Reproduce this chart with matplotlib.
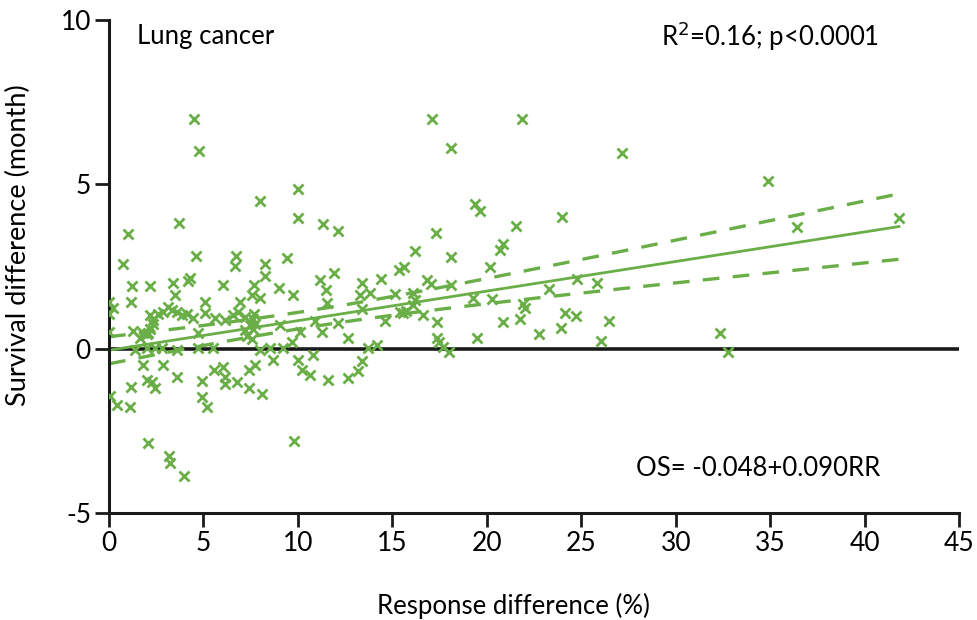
import numpy as np
import matplotlib
matplotlib.use("Agg")
import matplotlib.pyplot as plt

# Response difference (%) and survival difference (months) per trial
response_diff = [
    0.0, 0.23, 0.0, 0.0, 0.05, 0.41, 1.11, 1.16, 0.72, 1.02,
    1.23, 1.15, 1.29, 1.38, 1.64, 1.82, 1.82, 2.0, 2.26, 2.44,
    2.08, 2.17, 2.17, 2.35, 2.0, 2.17, 2.35, 2.0, 2.44, 2.79,
    2.88, 2.08, 2.6, 2.88, 3.14, 3.32, 3.58, 3.85, 4.11, 4.46,
    3.4, 3.49, 3.72, 3.58, 3.58, 3.18, 3.23, 3.99, 4.2, 4.3,
    4.52, 4.78, 4.62, 4.73, 4.73, 4.94, 4.9, 5.2, 5.08, 5.08,
    5.6, 5.52, 5.57, 6.05, 6.14, 6.05, 6.14, 6.14, 6.58, 6.84,
    6.7, 6.67, 6.76, 6.93, 7.2, 7.46, 7.2, 7.3, 7.55, 7.4,
    7.4, 7.7, 7.55, 7.99, 7.73, 7.99, 7.7, 7.6, 7.75, 7.6,
    8.0, 8.26, 8.26, 8.08, 8.52, 8.7, 9.0, 9.05, 9.23, 9.42,
    9.76, 9.67, 9.81, 9.99, 9.99, 10.1, 10.02, 10.2, 10.64, 10.81,
    10.9, 11.17, 11.5, 11.52, 11.26, 11.35, 11.61, 11.93, 12.1, 12.14,
    12.67, 12.67, 13.38, 13.29, 13.8, 13.38, 13.73, 14.17, 13.38, 13.2,
    14.38, 14.6, 15.35, 15.63, 15.14, 15.4, 15.55, 15.7, 16.1, 16.2,
    16.1, 16.2, 16.64, 16.82, 17.05, 17.1, 17.3, 17.35, 17.35, 17.45,
    17.7, 18.0, 18.09, 18.09, 18.09, 19.29, 19.38, 19.64, 19.5, 20.17,
    20.26, 20.7, 20.87, 20.87, 21.55, 21.76, 21.86, 21.9, 22.0, 22.78,
    23.3, 23.93, 24.0, 24.14, 24.7, 24.8, 25.85, 26.05, 26.45, 27.17,
    32.35, 32.79, 34.87, 36.4, 41.82,
]
survival_diff = [
    1.43, 1.25, 1.07, 0.51, -1.43, -1.72, -1.77, -1.16, 2.57, 3.49,
    1.91, 1.41, 0.54, -0.04, 0.31, 0.47, -0.5, -0.95, -1.0, -1.21,
    0.47, 1.91, 1.02, 0.87, 0.45, 0.6, 0.75, 0.01, 0.01, 0.01,
    -0.5, -2.88, 1.07, 1.12, 1.27, 1.17, 1.12, 1.02, 1.07, 0.92,
    2.0, 1.63, 3.83, -0.04, -0.85, -3.26, -3.47, -3.88, 2.05, 2.15,
    6.98, 6.0, 2.82, 0.47, 0.01, -0.98, -1.46, -1.79, 1.43, 1.1,
    0.92, 0.01, -0.65, 1.93, 0.87, -0.57, -0.85, -1.08, 1.02, 1.12,
    2.83, 2.52, -1.0, 1.43, 0.97, 0.72, 0.57, 0.4, 0.3, -0.65,
    -1.21, 1.95, 1.63, 1.53, -0.5, -0.04, 1.05, 0.9, 0.75, 0.6,
    4.5, 2.57, 2.22, -1.37, 0.01, -0.35, 1.85, 0.72, 0.01, 2.75,
    1.63, 0.21, -2.8, 4.85, 3.99, 0.51, -0.35, -0.65, -0.8, -0.2,
    0.85, 2.09, 1.79, 1.4, 0.5, 3.78, -0.95, 2.31, 3.57, 0.77,
    0.31, -0.9, 1.99, 1.63, 1.68, 1.2, 0.01, 0.11, -0.38, -0.68,
    2.12, 0.85, 2.39, 2.49, 1.67, 1.12, 1.1, 1.15, 1.68, 1.48,
    1.33, 2.96, 1.02, 2.09, 1.96, 7.0, 3.51, 0.82, 0.31, 0.2,
    0.06, -0.09, 6.11, 2.78, 1.94, 1.53, 4.4, 4.18, 0.31, 2.49,
    1.5, 3.0, 3.2, 0.8, 3.72, 0.9, 6.98, 1.35, 1.25, 0.44,
    1.81, 0.62, 4.0, 1.1, 1.0, 2.11, 2.0, 0.23, 0.84, 5.94,
    0.48, -0.09, 5.1, 3.69, 3.98,
]

# Fitted model reported on the chart: OS = intercept + slope * RR
intercept = -0.048
slope = 0.090

x_ticks = [0, 5, 10, 15, 20, 25, 30, 35, 40, 45]
y_ticks = [-5, 0, 5, 10]

green = "#6aae47"
plt.rcParams["font.family"] = ["Lato", "DejaVu Sans"]
plt.rcParams["axes.unicode_minus"] = False

fig = plt.figure(figsize=(9.78, 6.2), dpi=100)
ax = fig.add_axes([0.1115, 0.1726, 0.8691, 0.7951])

x = np.asarray(response_diff)
y = np.asarray(survival_diff)

# 95% confidence band of the regression mean
n = len(x)
resid = y - (intercept + slope * x)
s = np.sqrt(np.sum(resid ** 2) / (n - 2))
sxx = np.sum((x - x.mean()) ** 2)
xs = np.linspace(0, x.max(), 200)
fit = intercept + slope * xs
half = 1.974 * s * np.sqrt(1.0 / n + (xs - x.mean()) ** 2 / sxx)

ax.axhline(0, color="#1a1a1a", lw=2.6, zorder=1)
ax.plot(xs, fit, color=green, lw=2.0, zorder=2)
ax.plot(xs, fit + half, color=green, lw=2.4, dashes=(5, 4), zorder=2)
ax.plot(xs, fit - half, color=green, lw=2.4, dashes=(5, 4), zorder=2)
ax.plot(x, y, linestyle="none", marker="x", color=green,
        markersize=7.5, markeredgewidth=2.0, zorder=3)

ax.set_xlim(0, 45)
ax.set_ylim(-5, 10)
ax.set_xticks(x_ticks)
ax.set_yticks(y_ticks)
ax.tick_params(direction="out", length=10, width=2, labelsize=19,
               color="#1a1a1a", pad=3)
for side in ("top", "right"):
    ax.spines[side].set_visible(False)
for side in ("left", "bottom"):
    ax.spines[side].set_linewidth(2.2)
    ax.spines[side].set_color("#1a1a1a")

ax.set_xlabel("Response difference (%)", fontsize=18.5)
ax.set_ylabel("Survival difference (month)", fontsize=19.5)
ax.xaxis.set_label_coords(0.476, -0.163)
ax.yaxis.set_label_coords(-0.092, 0.544)

ax.text(1.5, 9.5, "Lung cancer", fontsize=18.5, va="center", ha="left")
ax.text(29.2, 9.5, r"R$^2$=0.16; p<0.0001", fontsize=18.5, va="center", ha="left")
ax.text(27.9, -3.66, "OS= -0.048+0.090RR", fontsize=18.5, va="center", ha="left")

fig.savefig("out.png", dpi=100)
